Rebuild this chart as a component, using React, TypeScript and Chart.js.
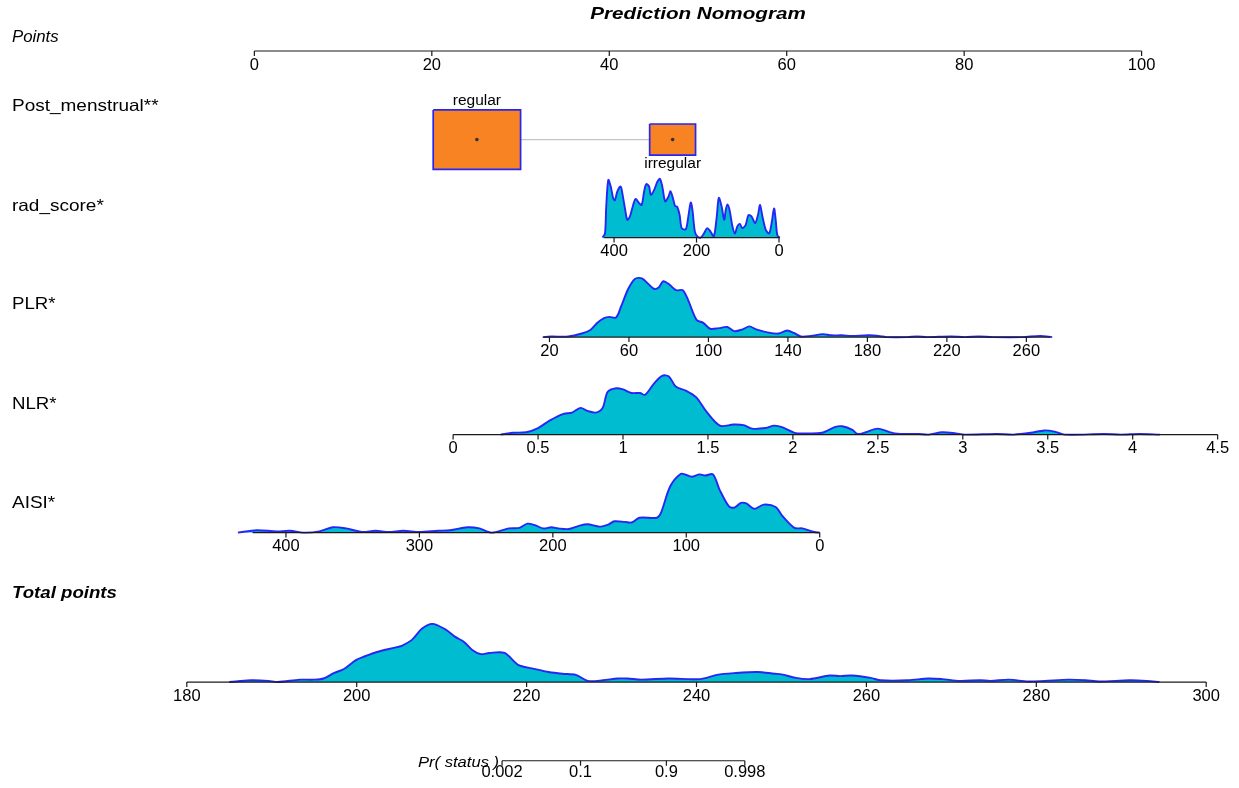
import React, { useEffect, useRef } from "react";
import { Chart, registerables } from "chart.js";

Chart.register(...registerables);

const CANVAS_W = 1239;
const CANVAS_H = 788;

const TITLE = "Prediction Nomogram";

// ---- Points axis ----
const pointsTicks = [0, 20, 40, 60, 80, 100];

// ---- Post_menstrual ----
const postCategories = ["regular", "irregular"];
const postPoints = [25.08, 47.14];
const postBoxSize = [1, 0.525];

// ---- rad_score ----
const radTicks = [400, 200, 0];
const radAnchorValues = [0, 400];
const radAnchorPoints = [59.13, 40.54];
const radRange = [424, -2];
const radValues = [428, 422, 419, 414, 408, 402, 398, 392, 384, 380, 373, 368, 362, 356, 348, 339, 333, 327, 322, 315, 311, 303, 295, 289, 283, 276, 268, 263, 257, 252, 247, 241, 236, 226, 220, 214, 210, 204, 198, 190, 182, 174, 166, 158, 151, 146, 139, 133, 129, 125, 120, 113, 107, 101, 95, 89, 81, 74, 66, 58, 51, 46, 40, 32, 24, 18, 12, 8, 4, -2];
const radDensity = [0, 0.07, 0.52, 0.97, 0.86, 0.66, 0.63, 0.78, 0.86, 0.75, 0.47, 0.3, 0.35, 0.49, 0.65, 0.58, 0.55, 0.78, 0.9, 0.86, 0.72, 0.8, 0.94, 0.99, 0.86, 0.61, 0.69, 0.78, 0.66, 0.53, 0.52, 0.38, 0.16, 0.14, 0.35, 0.59, 0.47, 0.1, 0.02, 0, 0.07, 0.16, 0.1, 0.02, 0.35, 0.67, 0.52, 0.3, 0.47, 0.56, 0.47, 0.19, 0.07, 0.19, 0.23, 0.16, 0.21, 0.38, 0.35, 0.24, 0.38, 0.55, 0.35, 0.13, 0.07, 0.24, 0.49, 0.3, 0.04, 0];

// ---- PLR ----
const plrTicks = [20, 60, 100, 140, 180, 220, 260];
const plrAnchorValues = [20, 260];
const plrAnchorPoints = [33.26, 87.01];
const plrRange = [17, 272];
const plrValues = [16.6, 20.9, 29.5, 36.3, 40.6, 44.1, 47.5, 50.1, 53.5, 56.1, 59.6, 63, 66.5, 69.9, 72.8, 75.1, 77.3, 80.2, 83.7, 87.1, 89.7, 94, 97.4, 100.9, 105.2, 109.5, 112.9, 117.2, 120.6, 124, 131, 135.3, 139.6, 143, 146.5, 151.6, 157.6, 161.9, 167.1, 172.3, 180.9, 187.7, 189.5, 200, 205, 210, 222, 229, 236, 243, 258, 267, 273];
const plrDensity = [0, 0.01, 0.01, 0.06, 0.12, 0.24, 0.32, 0.34, 0.33, 0.52, 0.81, 0.98, 0.99, 0.89, 0.81, 0.84, 0.94, 0.89, 0.79, 0.79, 0.63, 0.29, 0.24, 0.14, 0.15, 0.17, 0.1, 0.13, 0.18, 0.13, 0.07, 0.06, 0.11, 0.07, 0.01, 0.02, 0.05, 0.03, 0.03, 0.02, 0.03, 0.01, 0, 0, 0.01, 0, 0.01, 0, 0.01, 0, 0, 0.02, 0];

// ---- NLR ----
const nlrTicks = [0, 0.5, 1, 1.5, 2, 2.5, 3, 3.5, 4, 4.5];
const nlrAnchorValues = [0, 4.5];
const nlrAnchorPoints = [22.4, 108.57];
const nlrRange = [0, 4.5];
const nlrValues = [0.28, 0.35, 0.43, 0.5, 0.57, 0.65, 0.7, 0.75, 0.79, 0.84, 0.88, 0.91, 0.96, 1.0, 1.05, 1.1, 1.13, 1.18, 1.23, 1.27, 1.31, 1.37, 1.43, 1.49, 1.57, 1.65, 1.71, 1.76, 1.84, 1.89, 1.94, 2.01, 2.07, 2.17, 2.25, 2.29, 2.35, 2.38, 2.43, 2.5, 2.6, 2.74, 2.8, 2.88, 2.96, 3.01, 3.2, 3.3, 3.4, 3.48, 3.54, 3.6, 3.83, 3.93, 4.04, 4.16];
const nlrDensity = [0, 0.03, 0.04, 0.11, 0.24, 0.35, 0.37, 0.45, 0.4, 0.37, 0.45, 0.72, 0.78, 0.76, 0.7, 0.7, 0.67, 0.85, 0.99, 0.98, 0.81, 0.74, 0.63, 0.39, 0.15, 0.17, 0.16, 0.1, 0.11, 0.15, 0.12, 0.03, 0.02, 0.03, 0.13, 0.14, 0.08, 0.01, 0.04, 0.1, 0.02, 0.01, 0, 0.04, 0.02, 0, 0.01, 0, 0.03, 0.07, 0.05, 0, 0.01, 0, 0.01, 0];

// ---- AISI ----
const aisiTicks = [400, 300, 200, 100, 0];
const aisiAnchorValues = [0, 400];
const aisiAnchorPoints = [63.72, 3.56];
const aisiRange = [425, 0];
const aisiValues = [436, 422, 407, 397, 387, 375, 365, 355, 343, 333, 323, 312, 300, 286, 277, 264, 255, 246, 233, 225, 219, 213, 207, 201, 196, 188, 181, 174, 165, 158, 154, 146, 141, 135, 122, 119, 112, 104, 100, 96, 90, 86, 80, 75, 68, 64, 59, 55, 49, 42, 33, 28, 19, 13, 4, 0];
const aisiDensity = [0, 0.04, 0.02, 0.03, 0, 0.02, 0.09, 0.07, 0.01, 0.03, 0.01, 0.03, 0.01, 0.03, 0.04, 0.09, 0.07, 0, 0.07, 0.08, 0.15, 0.12, 0.07, 0.09, 0.07, 0.06, 0.11, 0.14, 0.1, 0.14, 0.19, 0.18, 0.17, 0.25, 0.25, 0.33, 0.78, 0.99, 0.97, 0.94, 0.98, 0.96, 0.98, 0.72, 0.44, 0.42, 0.5, 0.49, 0.4, 0.47, 0.43, 0.28, 0.08, 0.07, 0.01, 0];

// ---- Total points ----
const totalTicks = [180, 200, 220, 240, 260, 280, 300];
const totalAnchorValues = [180, 300];
const totalAnchorPoints = [-7.615, 107.28];
const totalRange = [180, 300];
const totalValues = [185, 185.8, 187.6, 189.6, 190.7, 193.3, 194.9, 196.1, 197.3, 198.5, 199.9, 200.9, 202.5, 204.5, 205.3, 206.5, 207.7, 208.9, 210.4, 211.6, 212.6, 213.6, 214.6, 215.6, 217.4, 219, 220.6, 222.6, 224.2, 225.8, 227.2, 229, 230.7, 231.9, 233.5, 236.7, 240.4, 242.4, 244.4, 247.2, 249.2, 250, 251.7, 253.3, 255.7, 256.9, 258.3, 260.5, 261.7, 264.9, 267.3, 268.9, 271, 273.4, 274.6, 276.8, 279, 281, 283.8, 285.8, 287.4, 291, 293, 294.5];
const totalDensity = [0, 0.01, 0.03, 0.02, 0, 0.04, 0.04, 0.06, 0.15, 0.22, 0.37, 0.43, 0.51, 0.58, 0.61, 0.71, 0.9, 0.98, 0.89, 0.76, 0.68, 0.54, 0.47, 0.49, 0.49, 0.29, 0.23, 0.17, 0.14, 0.12, 0.02, 0.03, 0.06, 0.06, 0.04, 0.06, 0.05, 0.12, 0.15, 0.17, 0.14, 0.13, 0.07, 0.05, 0.11, 0.1, 0.11, 0.07, 0.03, 0.03, 0.06, 0.05, 0.02, 0.03, 0.02, 0.04, 0.01, 0.02, 0.04, 0.03, 0.01, 0.03, 0.02, 0];

// ---- Pr(status) ----
const prTicks = [0.002, 0.1, 0.9, 0.998];
const prLabels = ["0.002", "0.1", "0.9", "0.998"];
const prLpIntercept = 231.4; // total points at logit 0
const prLpSlope = 2.3; // total points per logit unit

// ---------------- layout / style ----------------
const PX_POINT0 = 252;
const PX_POINT100 = 1145;
const PX_PER_POINT = (PX_POINT100 - PX_POINT0) / 100;
const X_MIN = -PX_POINT0 / PX_PER_POINT;
const X_MAX = (CANVAS_W - PX_POINT0) / PX_PER_POINT;
const ROW = { points: 47.5, post: 137, rad: 236, plr: 336.5, nlr: 435, aisi: 534, total: 685, pr: 764.5 };
const DENSITY_H = 60;
const BOX_W_PTS = 9.85;
const BOX_H = 60;
const FONT = "'Liberation Sans', Arial, Helvetica, sans-serif";
const CYAN = "rgb(0,188,208)";
const BLUE = "rgb(38,38,245)";
const ORANGE = "rgb(247,131,34)";
const AXIS = "#1a1a1a";

const lin = (av: number[], ap: number[]) => (v: number) =>
  ap[0] + ((v - av[0]) * (ap[1] - ap[0])) / (av[1] - av[0]);

const radToPts = lin(radAnchorValues, radAnchorPoints);
const plrToPts = lin(plrAnchorValues, plrAnchorPoints);
const nlrToPts = lin(nlrAnchorValues, nlrAnchorPoints);
const aisiToPts = lin(aisiAnchorValues, aisiAnchorPoints);
const totalToPts = lin(totalAnchorValues, totalAnchorPoints);
const prToPts = (p: number) => totalToPts(prLpIntercept + prLpSlope * Math.log(p / (1 - p)));
const identity = (v: number) => v;

function densityDataset(values: number[], dens: number[], toPts: (v: number) => number, base: number) {
  return {
    type: "line" as const,
    data: values.map((v, i) => ({ x: toPts(v), y: base - dens[i] * DENSITY_H })),
    borderColor: BLUE,
    backgroundColor: CYAN,
    borderWidth: 1.9,
    pointRadius: 0,
    tension: 0.3,
    fill: { value: base },
    order: 5,
  };
}

function boxDataset(i: number) {
  const cx = postPoints[i];
  const hw = (BOX_W_PTS / 2) * postBoxSize[i];
  const hh = (BOX_H / 2) * postBoxSize[i];
  const y0 = ROW.post - hh;
  const y1 = ROW.post + hh;
  return {
    type: "line" as const,
    data: [
      { x: cx - hw, y: y0 },
      { x: cx + hw, y: y0 },
      { x: cx + hw, y: y1 },
      { x: cx - hw, y: y1 },
      { x: cx - hw, y: y0 },
    ],
    borderColor: BLUE,
    backgroundColor: ORANGE,
    borderWidth: 1.7,
    pointRadius: 0,
    tension: 0,
    fill: "shape",
    order: 2,
  };
}

type AxisSpec = {
  ticks: number[];
  labels?: string[];
  toPts: (v: number) => number;
  range: number[];
  base: number;
  labelOffset: number;
};

const axes: AxisSpec[] = [
  { ticks: pointsTicks, toPts: identity, range: [0, 100], base: ROW.points, labelOffset: 19 },
  { ticks: radTicks, toPts: radToPts, range: radRange, base: ROW.rad, labelOffset: 18.5 },
  { ticks: plrTicks, toPts: plrToPts, range: plrRange, base: ROW.plr, labelOffset: 18.5 },
  { ticks: nlrTicks, toPts: nlrToPts, range: nlrRange, base: ROW.nlr, labelOffset: 18.5 },
  { ticks: aisiTicks, toPts: aisiToPts, range: aisiRange, base: ROW.aisi, labelOffset: 18.5 },
  { ticks: totalTicks, toPts: totalToPts, range: totalRange, base: ROW.total, labelOffset: 18.5 },
  { ticks: prTicks, labels: prLabels, toPts: prToPts, range: [prTicks[0], prTicks[prTicks.length - 1]], base: ROW.pr, labelOffset: 16 },
];

function stretchedText(ctx: CanvasRenderingContext2D, text: string, x: number, y: number, font: string, sx: number, align: CanvasTextAlign) {
  ctx.save();
  ctx.font = font;
  ctx.fillStyle = "#000";
  ctx.textAlign = align;
  ctx.textBaseline = "alphabetic";
  ctx.translate(x, y);
  ctx.scale(sx, 1);
  ctx.fillText(text, 0, 0);
  ctx.restore();
}

const nomogramPlugin = {
  id: "nomogramAxes",
  afterDatasetsDraw(chart: any) {
    const ctx: CanvasRenderingContext2D = chart.ctx;
    const xs = chart.scales.x;
    const ys = chart.scales.y;
    ctx.save();
    axes.forEach((a) => {
      const yb = ys.getPixelForValue(a.base);
      ctx.strokeStyle = AXIS;
      ctx.lineWidth = 1.2;
      ctx.beginPath();
      ctx.moveTo(xs.getPixelForValue(a.toPts(a.range[0])), yb);
      ctx.lineTo(xs.getPixelForValue(a.toPts(a.range[1])), yb);
      ctx.stroke();
      a.ticks.forEach((t, i) => {
        const x = xs.getPixelForValue(a.toPts(t));
        ctx.beginPath();
        ctx.moveTo(x, yb);
        ctx.lineTo(x, yb + 5);
        ctx.stroke();
        const label = a.labels ? a.labels[i] : String(t);
        stretchedText(ctx, label, x, yb + a.labelOffset, `16.5px ${FONT}`, 1, "center");
      });
    });
    postCategories.forEach((c, i) => {
      const x = xs.getPixelForValue(postPoints[i]);
      const hh = (BOX_H / 2) * postBoxSize[i];
      const y = i % 2 === 0
        ? ys.getPixelForValue(ROW.post - hh) - 4.5
        : ys.getPixelForValue(ROW.post + hh) + 12.5;
      stretchedText(ctx, c, x, y, `15.5px ${FONT}`, 1, "center");
    });
    stretchedText(ctx, TITLE, 698, 19, `italic bold 16.5px ${FONT}`, 1.25, "center");
    stretchedText(ctx, "Points", 12, 41.5, `italic 16px ${FONT}`, 1.05, "left");
    stretchedText(ctx, "Post_menstrual**", 12, 110.5, `16.5px ${FONT}`, 1.15, "left");
    stretchedText(ctx, "rad_score*", 12, 210.5, `16.5px ${FONT}`, 1.15, "left");
    stretchedText(ctx, "PLR*", 12, 309, `16.5px ${FONT}`, 1.13, "left");
    stretchedText(ctx, "NLR*", 12, 409, `16.5px ${FONT}`, 1.13, "left");
    stretchedText(ctx, "AISI*", 12, 508, `16.5px ${FONT}`, 1.15, "left");
    stretchedText(ctx, "Total points", 12, 598, `italic bold 16.5px ${FONT}`, 1.13, "left");
    const prX = xs.getPixelForValue(prToPts(prTicks[0])) - 3;
    stretchedText(ctx, "Pr( status )", prX, 767, `italic 15.5px ${FONT}`, 1.07, "right");
    ctx.restore();
  },
};

export default function App() {
  const ref = useRef<HTMLCanvasElement | null>(null);

  useEffect(() => {
    document.body.style.margin = "0";
    const canvas = ref.current;
    if (!canvas) return;

    const datasets: any[] = [
      densityDataset(radValues, radDensity, radToPts, ROW.rad),
      densityDataset(plrValues, plrDensity, plrToPts, ROW.plr),
      densityDataset(nlrValues, nlrDensity, nlrToPts, ROW.nlr),
      densityDataset(aisiValues, aisiDensity, aisiToPts, ROW.aisi),
      densityDataset(totalValues, totalDensity, totalToPts, ROW.total),
      {
        type: "line",
        data: postPoints.map((p) => ({ x: p, y: ROW.post })),
        borderColor: "#c4c4c4",
        borderWidth: 1.3,
        pointRadius: 0,
        fill: false,
        order: 3,
      },
      boxDataset(0),
      boxDataset(1),
      {
        type: "line",
        data: postPoints.map((p) => ({ x: p, y: ROW.post })),
        showLine: false,
        pointRadius: 1.8,
        pointBackgroundColor: "#333",
        pointBorderWidth: 0,
        fill: false,
        order: 1,
      },
    ];

    const chart = new Chart(canvas, {
      type: "line",
      data: { datasets },
      options: {
        responsive: false,
        devicePixelRatio: 1,
        animation: false,
        layout: { padding: 0 },
        plugins: {
          legend: { display: false },
          tooltip: { enabled: false },
        },
        scales: {
          x: { type: "linear", min: X_MIN, max: X_MAX, display: false },
          y: { type: "linear", min: 0, max: CANVAS_H, reverse: true, display: false },
        },
      },
      plugins: [nomogramPlugin],
    } as any);

    return () => chart.destroy();
  }, []);

  return (
    <div style={{ position: "absolute", left: 0, top: 0, width: CANVAS_W, height: CANVAS_H, background: "#fff" }}>
      <canvas ref={ref} width={CANVAS_W} height={CANVAS_H} style={{ display: "block" }} />
    </div>
  );
}
